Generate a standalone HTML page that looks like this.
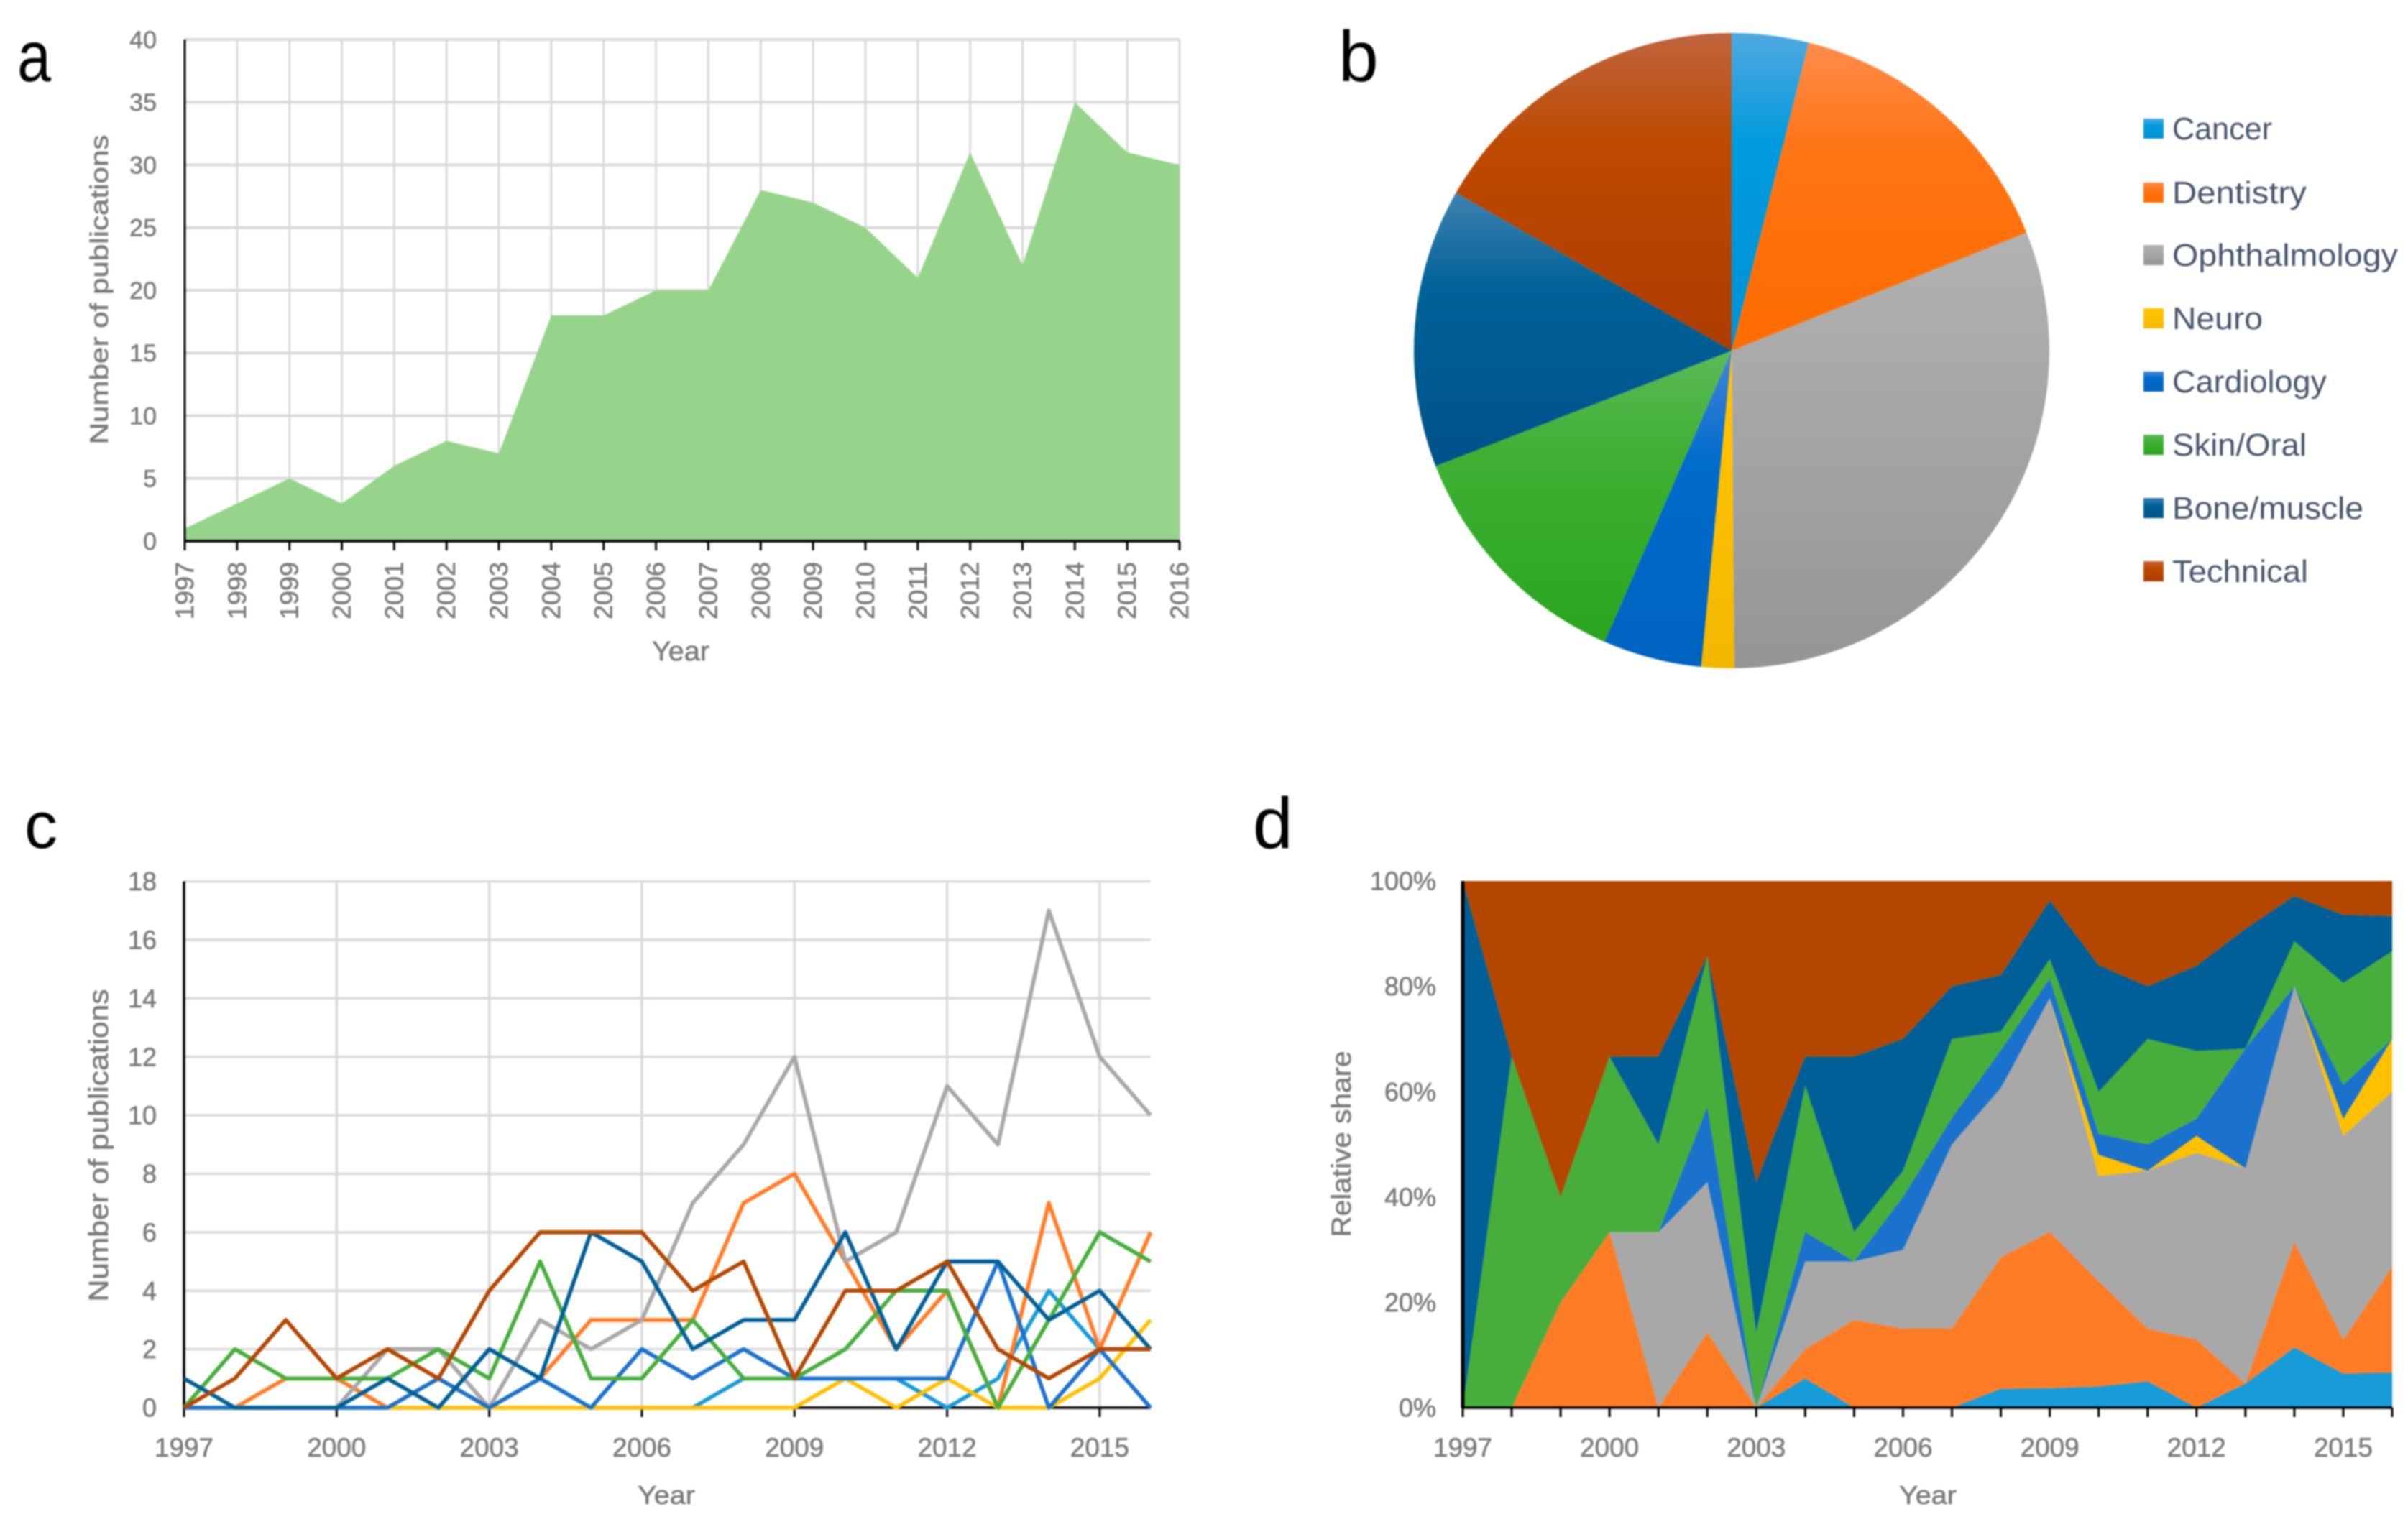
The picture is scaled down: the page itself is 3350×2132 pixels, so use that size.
<!DOCTYPE html>
<html lang="en">
<head>
<meta charset="utf-8">
<title>Publications by year and field</title>
<style>
html,body{margin:0;padding:0;background:#fff;width:3350px;height:2132px;overflow:hidden}
svg{display:block;filter:blur(1px)}
text{font-family:"Liberation Sans",sans-serif}
.soft{stroke:#7a7a7a;stroke-width:0.6}
</style>
</head>
<body>
<svg id="figure" xmlns="http://www.w3.org/2000/svg" width="3350" height="2132" viewBox="0 0 3350 2132">
  <defs id="gradients"></defs>
  <rect width="3350" height="2132" fill="#fff"/>
  <text x="24" y="113" font-size="100" fill="#000" textLength="47" lengthAdjust="spacingAndGlyphs">a</text>
  <text x="1862" y="113" font-size="100" fill="#000">b</text>
  <text x="34" y="1180" font-size="92" fill="#000">c</text>
  <text x="1743" y="1180" font-size="100" fill="#000">d</text>

  <g id="panel-a"></g>
  <text class="soft" transform="translate(150,403) rotate(-90)" text-anchor="middle" font-size="35" fill="#7a7a7a" textLength="431" lengthAdjust="spacingAndGlyphs">Number of publications</text>
  <text class="soft" x="947" y="919" text-anchor="middle" font-size="38" fill="#7a7a7a" textLength="80" lengthAdjust="spacingAndGlyphs">Year</text>

  <g id="panel-b"></g>
  <g id="legend"></g>

  <g id="panel-c"></g>
  <text class="soft" transform="translate(150,1594) rotate(-90)" text-anchor="middle" font-size="38" fill="#7a7a7a" textLength="435" lengthAdjust="spacingAndGlyphs">Number of publications</text>
  <text class="soft" x="927" y="2093" text-anchor="middle" font-size="36" fill="#7a7a7a" textLength="80" lengthAdjust="spacingAndGlyphs">Year</text>

  <g id="panel-d"></g>
  <text class="soft" transform="translate(1879,1592) rotate(-90)" text-anchor="middle" font-size="38" fill="#7a7a7a" textLength="259" lengthAdjust="spacingAndGlyphs">Relative share</text>
  <text class="soft" x="2682" y="2093" text-anchor="middle" font-size="36" fill="#7a7a7a" textLength="80" lengthAdjust="spacingAndGlyphs">Year</text>
</svg>
<script>
/* ---------- data ---------- */
const years = [1997,1998,1999,2000,2001,2002,2003,2004,2005,2006,2007,2008,2009,2010,2011,2012,2013,2014,2015,2016];
const totalPublications = [1,3,5,3,6,8,7,18,18,20,20,28,27,25,21,31,22,35,31,30];

const cancerCounts     = [0,0,0,0,0,0,0,1,0,0,0,1,1,1,1,0,1,4,2,2];
const dentistryCounts  = [0,0,1,1,0,1,0,1,3,3,3,7,8,5,2,4,0,7,2,6];
const ophthalmologyCounts = [0,0,0,0,2,2,0,3,2,3,7,9,12,5,6,11,9,17,12,10];
const neuroCounts      = [0,0,0,0,0,0,0,0,0,0,0,0,0,1,0,1,0,0,1,3];
const cardiologyCounts = [0,0,0,0,0,1,0,1,0,2,1,2,1,1,1,1,5,0,2,0];
const skinOralCounts   = [0,2,1,1,1,2,1,5,1,1,3,1,1,2,4,4,0,3,6,5];
const boneMuscleCounts = [1,0,0,0,1,0,2,1,6,5,2,3,3,6,2,5,5,3,4,2];
const technicalCounts  = [0,1,3,1,2,1,4,6,6,6,4,5,1,4,4,5,2,1,2,2];

const fieldNames = ["Cancer","Dentistry","Ophthalmology","Neuro","Cardiology","Skin/Oral","Bone/muscle","Technical"];
const pieCounts = [14,54,111,6,18,45,51,60];

const yTicksA = [0,5,10,15,20,25,30,35,40];
const yTicksC = [0,2,4,6,8,10,12,14,16,18];
const yTicksD = [0,20,40,60,80,100];
const xLabelYearsSparse = [1997,2000,2003,2006,2009,2012,2015];

/* ---------- styling ---------- */
const fieldCounts = [cancerCounts,dentistryCounts,ophthalmologyCounts,neuroCounts,cardiologyCounts,skinOralCounts,boneMuscleCounts,technicalCounts];
const fieldSlugs = ["cancer","dentistry","ophthalmology","neuro","cardiology","skin-oral","bone-muscle","technical"];
const fieldColors = ["#179bd9","#ff7c26","#a8a8a8","#ffc000","#1a72cc","#47ae3c","#005f97","#b34700"];
const pieStops = [
  ["#50a8e0","#009ade","#0093d6"],
  ["#ff8c4a","#ff7414","#ff6c00"],
  ["#b2b2b2","#a8a8a8","#959595"],
  ["#ffc000","#ffc000","#f2b800"],
  ["#4585d8","#006ccc","#0063c0"],
  ["#5cba58","#3fb034","#2aa520"],
  ["#3f82b0","#006298","#00528a"],
  ["#c0643e","#be4a00","#ad3c00"]
];
const legendWidths = [139,187,314,126,215,187,266,189];
const legendRowY = [179,268,355,443,531,619,707,795];
const GRID = "#d9d9d9", TICK_TEXT = "#7a7a7a";

/* ---------- helpers ---------- */
const NS = "http://www.w3.org/2000/svg";
function mk(parent, tag, attrs, content) {
  const el = document.createElementNS(NS, tag);
  for (const k in attrs) el.setAttribute(k, attrs[k]);
  if (content !== undefined) el.textContent = content;
  parent.appendChild(el);
  return el;
}
function linear(d0, d1, r0, r1) { return v => r0 + (v - d0) * (r1 - r0) / (d1 - d0); }
function hGrid(parent, ticks, xa, xb, y, w) {
  ticks.forEach(t => {
    const el = mk(parent, "line", {x1:xa, x2:xb, y1:y(t), y2:y(t), stroke:GRID, "stroke-width":w});
    
    
  });
}
function vGrid(parent, list, ya, yb, x, w) {
  list.forEach(t => {
    const el = mk(parent, "line", {x1:x(t), x2:x(t), y1:ya, y2:yb, stroke:GRID, "stroke-width":w});
    
    
  });
}
function axes(parent, xa, xb, yTop, yBase, x, tickYears, w) {
  const yAxis = mk(parent, "line", {x1:xa, x2:xa, y1:yTop, y2:yBase+1, stroke:"#000", "stroke-width":w});
  
  
  const xAxis = mk(parent, "line", {x1:xa-1, x2:xb, y1:yBase, y2:yBase, stroke:"#000", "stroke-width":3.5});
  
  
  tickYears.forEach(t => {
    const tk = mk(parent, "line", {x1:x(t), x2:x(t), y1:yBase, y2:yBase+13, stroke:"#000", "stroke-width":3});
    
    
  });
}
function yLabels(parent, ticks, y, right, size, fmt) {
  ticks.forEach(t => {
    const el = mk(parent, "text", {x:right, y:y(t)+size*0.35, "text-anchor":"end", "font-size":size, fill:TICK_TEXT, class:"soft"}, fmt(t));
    
    
  });
}
function xLabels(parent, list, x, base, size, len) {
  list.forEach(t => {
    const el = mk(parent, "text", {x:x(t), y:base, "text-anchor":"middle", "font-size":size, fill:TICK_TEXT, class:"soft", textLength:len, lengthAdjust:"spacingAndGlyphs"}, String(t));
    
    
  });
}

/* ---------- panel a: total publications ---------- */
(function () {
  const g = document.getElementById("panel-a");
  const xa = 257, xb = 1641, yTop = 55, yBase = 753;
  const x = linear(years[0], years[years.length-1], xa, xb);
  const y = linear(0, 40, yBase, yTop);
  hGrid(g, yTicksA, xa, xb, y, 4);
  vGrid(g, years, yTop, yBase, x, 3);
  let d = "M" + x(years[0]) + "," + y(0);
  years.forEach((yr,i) => { d += "L" + x(yr) + "," + y(totalPublications[i]); });
  d += "L" + x(years[years.length-1]) + "," + y(0) + "Z";
  const area = mk(g, "path", {d:d, fill:"#96d48b"});
  
  
  axes(g, xa, xb, yTop, yBase, x, years, 3);
  yLabels(g, yTicksA, y, 218, 34, String);
  years.forEach(t => {
    const el = mk(g, "text", {transform:"translate(" + (x(t)+12) + ",782) rotate(-90)", "text-anchor":"end", "font-size":35, fill:TICK_TEXT, class:"soft", textLength:80, lengthAdjust:"spacingAndGlyphs"}, String(t));
    
    
  });
})();

/* ---------- gradients, pie and legend ---------- */
(function () {
  const defs = document.getElementById("gradients");
  fieldSlugs.forEach((s,i) => {
    const lg = mk(defs, "linearGradient", {id:"grad-"+s, x1:0, y1:0, x2:0, y2:1});
    mk(lg, "stop", {offset:"0", "stop-color":pieStops[i][0]});
    mk(lg, "stop", {offset:"0.35", "stop-color":pieStops[i][1]});
    mk(lg, "stop", {offset:"1", "stop-color":pieStops[i][2]});
  });
  const g = document.getElementById("panel-b");
  const cx = 2409, cy = 488, r = 442;
  const total = pieCounts.reduce((a,b) => a+b, 0);
  let acc = 0;
  pieCounts.forEach((v,i) => {
    const a0 = acc / total * 2 * Math.PI;
    acc += v;
    const a1 = acc / total * 2 * Math.PI;
    const large = (a1 - a0) > Math.PI ? 1 : 0;
    const d = "M"+cx+","+cy+"L"+(cx+r*Math.sin(a0))+","+(cy-r*Math.cos(a0))+"A"+r+","+r+" 0 "+large+" 1 "+(cx+r*Math.sin(a1))+","+(cy-r*Math.cos(a1))+"Z";
    const wedge = mk(g, "path", {d:d, fill:"url(#grad-"+fieldSlugs[i]+")"});
    
    
  });
  const lg = document.getElementById("legend");
  fieldNames.forEach((name,i) => {
    const sw = mk(lg, "rect", {x:2982, y:legendRowY[i]-14, width:28, height:28, fill:"url(#grad-"+fieldSlugs[i]+")"});
    
    
    const tx = mk(lg, "text", {x:3022, y:legendRowY[i]+15, "font-size":44, fill:"#44546a", textLength:legendWidths[i], lengthAdjust:"spacingAndGlyphs"}, name);
    
    
  });
})();

/* ---------- panel c: line chart ---------- */
(function () {
  const g = document.getElementById("panel-c");
  const xa = 256, xb = 1600.7, yTop = 1226.5, yBase = 1959;
  const x = linear(years[0], years[years.length-1], xa, xb);
  const y = linear(0, 18, yBase, yTop);
  hGrid(g, yTicksC, xa, xb, y, 3.5);
  vGrid(g, xLabelYearsSparse, yTop, yBase, x, 3.5);
  axes(g, xa, xb, yTop, yBase, x, xLabelYearsSparse, 3.5);
  fieldCounts.forEach((vals,i) => {
    const pts = years.map((yr,j) => x(yr) + "," + y(vals[j])).join(" ");
    const line = mk(g, "polyline", {points:pts, fill:"none", stroke:fieldColors[i], "stroke-width":5.6, "stroke-linejoin":"round"});
    
    
  });
  yLabels(g, yTicksC, y, 218, 36, String);
  xLabels(g, xLabelYearsSparse, x, 2027, 37, 82);
})();

/* ---------- panel d: 100% stacked area (shares derived from the same counts) ---------- */
(function () {
  const g = document.getElementById("panel-d");
  const xa = 2035, xb = 3328, yTop = 1226, yBase = 1959;
  const x = linear(years[0], years[years.length-1], xa, xb);
  const y = linear(0, 100, yBase, yTop);
  const lower = years.map(() => 0);
  const yearTotals = years.map((_,j) => fieldCounts.reduce((s,c) => s + c[j], 0));
  fieldCounts.forEach((vals,i) => {
    const upper = lower.map((b,j) => b + vals[j] / yearTotals[j] * 100);
    let d = "";
    years.forEach((yr,j) => { d += (j ? "L" : "M") + x(yr) + "," + y(upper[j]); });
    for (let j = years.length-1; j >= 0; j--) { d += "L" + x(years[j]) + "," + y(lower[j]); }
    d += "Z";
    const area = mk(g, "path", {d:d, fill:fieldColors[i]});
    
    
    upper.forEach((u,j) => { lower[j] = u; });
  });
  axes(g, xa, xb, yTop, yBase, x, years, 5);
  yLabels(g, yTicksD, y, 1998, 36, t => t + "%");
  xLabels(g, xLabelYearsSparse, x, 2027, 37, 82);
})();
</script>
</body>
</html>
